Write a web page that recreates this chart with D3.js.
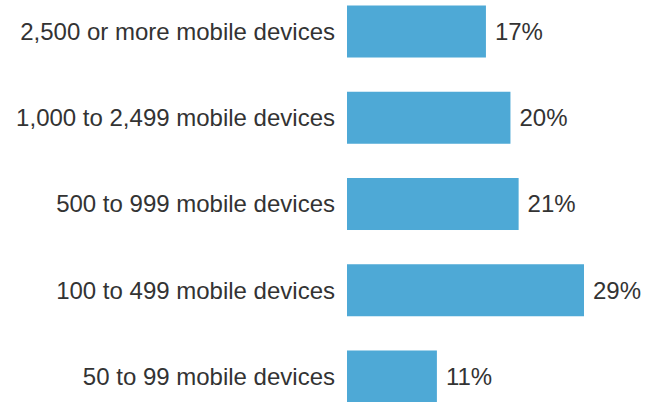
<!DOCTYPE html>
<html><head><meta charset="utf-8">
<script src="https://cdn.jsdelivr.net/npm/d3@7"></script>
<style>body{margin:0;background:#fff;}svg{display:block;}</style>
</head><body>
<svg id="c" width="661" height="402"></svg>
<script>
const categories = ["2,500 or more mobile devices","1,000 to 2,499 mobile devices","500 to 999 mobile devices","100 to 499 mobile devices","50 to 99 mobile devices"];
const values = [17, 20, 21, 29, 11];
const valueLabels = ["17%","20%","21%","29%","11%"];

const svg = d3.select("#c");
const x0 = 347;
const x = d3.scaleLinear().domain([0, 29]).range([x0, 584]);
const y = d3.scaleBand().domain(categories).range([5.5, 402.5]).paddingInner(0.397).paddingOuter(0);

const font = "'Liberation Sans', Arial, sans-serif";
const g = svg.append("g");
g.selectAll("rect").data(categories).join("rect")
  .attr("x", x0).attr("y", d => y(d))
  .attr("width", (d,i) => x(values[i]) - x0)
  .attr("height", y.bandwidth())
  .attr("fill", "#4EA9D6");

g.selectAll("text.cat").data(categories).join("text")
  .attr("class","cat")
  .attr("x", x0 - 12).attr("y", d => y(d) + y.bandwidth()/2)
  .attr("dy","0.35em").attr("text-anchor","end")
  .style("font-family", font).style("font-size","24px")
  .attr("fill","#333")
  .text(d => d);

g.selectAll("text.val").data(categories).join("text")
  .attr("class","val")
  .attr("x", (d,i) => x(values[i]) + 9).attr("y", d => y(d) + y.bandwidth()/2)
  .attr("dy","0.35em").attr("text-anchor","start")
  .style("font-family", font).style("font-size","24px")
  .attr("fill","#333")
  .text((d,i) => valueLabels[i]);
</script>
</body></html>
